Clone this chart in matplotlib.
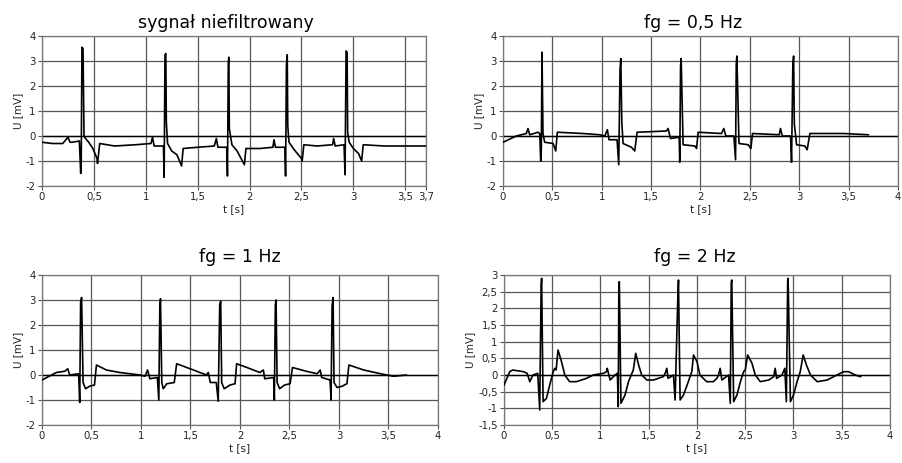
import matplotlib
matplotlib.use("Agg")
import matplotlib.pyplot as plt

# ---- data (t in s, U in mV) ----
t_raw = [0.0, 0.10, 0.20, 0.25, 0.27, 0.29, 0.36, 0.373, 0.378, 0.385, 0.395, 0.405, 0.41,
         0.45, 0.49, 0.53, 0.535, 0.556, 0.70, 0.90, 1.05, 1.065, 1.08, 1.17, 1.177, 1.185,
         1.193, 1.198, 1.21, 1.25, 1.30, 1.345, 1.36, 1.50, 1.66, 1.68, 1.695, 1.78, 1.787,
         1.795, 1.80, 1.805, 1.83, 1.88, 1.95, 1.965, 2.10, 2.225, 2.235, 2.25, 2.34, 2.347,
         2.355, 2.363, 2.368, 2.38, 2.43, 2.50, 2.507, 2.523, 2.65, 2.80, 2.81, 2.825, 2.91,
         2.92, 2.93, 2.94, 2.945, 2.96, 3.00, 3.05, 3.08, 3.095, 3.30, 3.50, 3.70]
u_raw = [-0.25, -0.30, -0.30, -0.05, -0.25, -0.25, -0.20, -1.50, -1.05, 3.55, 3.50, 0.0, -0.05,
         -0.25, -0.50, -0.90, -1.10, -0.30, -0.40, -0.35, -0.30, -0.05, -0.40, -0.40, -1.65, 3.25,
         3.30, 0.55, -0.30, -0.60, -0.75, -1.20, -0.50, -0.45, -0.40, -0.10, -0.45, -0.45, -1.60,
         2.90, 3.15, 0.30, -0.35, -0.60, -1.15, -0.50, -0.50, -0.45, -0.15, -0.45, -0.45, -1.60,
         2.80, 3.25, 0.40, -0.25, -0.55, -0.90, -1.00, -0.35, -0.40, -0.35, -0.10, -0.40, -0.35,
         -1.55, 3.40, 3.35, 0.15, -0.25, -0.50, -0.70, -1.00, -0.35, -0.40, -0.40, -0.40]

t_05 = [0.0, 0.135, 0.236, 0.253, 0.27, 0.355, 0.372, 0.382, 0.388, 0.395, 0.405, 0.422,
        0.507, 0.534, 0.55, 0.81, 0.98, 1.03, 1.057, 1.074, 1.155, 1.172, 1.185, 1.193, 1.203,
        1.216, 1.30, 1.334, 1.358, 1.655, 1.672, 1.696, 1.784, 1.79, 1.798, 1.804, 1.824,
        1.943, 1.96, 1.976, 2.213, 2.236, 2.257, 2.338, 2.355, 2.362, 2.368, 2.39, 2.483,
        2.51, 2.527, 2.797, 2.81, 2.828, 2.912, 2.922, 2.935, 2.943, 2.95, 2.973, 3.057, 3.08,
        3.108, 3.446, 3.70]
u_05 = [-0.25, 0.0, 0.10, 0.30, 0.05, 0.15, 0.10, -1.00, -0.50, 3.35, 0.10, -0.25,
        -0.30, -0.60, 0.15, 0.10, 0.05, 0.0, 0.25, -0.15, -0.15, -1.15, 2.65, 3.10, 0.55,
        -0.30, -0.45, -0.60, 0.15, 0.20, 0.30, -0.10, -0.05, -1.05, 2.80, 3.10, -0.35,
        -0.40, -0.50, 0.15, 0.10, 0.30, 0.0, 0.0, -0.95, 2.85, 3.20, -0.30, -0.35,
        -0.50, 0.10, 0.05, 0.30, 0.0, 0.0, -1.05, 2.85, 3.20, 0.50, -0.35, -0.40, -0.55,
        0.10, 0.10, 0.05]

t_1 = [0.0, 0.145, 0.23, 0.26, 0.28, 0.37, 0.381, 0.39, 0.40, 0.415, 0.44, 0.48, 0.53, 0.55,
       0.65, 0.786, 0.99, 1.04, 1.066, 1.09, 1.165, 1.18, 1.19, 1.197, 1.21, 1.225, 1.26,
       1.336, 1.36, 1.53, 1.66, 1.68, 1.70, 1.76, 1.78, 1.795, 1.805, 1.815, 1.84, 1.90, 1.95,
       1.966, 2.07, 2.20, 2.236, 2.25, 2.34, 2.347, 2.357, 2.364, 2.375, 2.40, 2.45, 2.506,
       2.53, 2.67, 2.78, 2.81, 2.825, 2.91, 2.92, 2.93, 2.94, 2.95, 2.98, 3.03, 3.08, 3.10,
       3.25, 3.42, 3.55, 3.68]
u_1 = [-0.20, 0.10, 0.15, 0.25, 0.0, 0.05, -1.10, 2.90, 3.10, -0.30, -0.55, -0.45, -0.40, 0.40,
       0.20, 0.10, 0.0, -0.05, 0.20, -0.15, -0.10, -1.00, 2.70, 3.05, -0.30, -0.55, -0.35,
       -0.30, 0.45, 0.20, 0.0, 0.10, -0.30, -0.30, -1.05, 2.80, 2.95, -0.30, -0.55, -0.40, -0.35,
       0.45, 0.30, 0.10, 0.20, -0.15, -0.10, -1.00, 2.80, 3.00, -0.30, -0.55, -0.40, -0.35,
       0.30, 0.15, 0.05, 0.20, -0.10, -0.20, -1.00, 2.75, 3.10, -0.30, -0.50, -0.45, -0.35, 0.40,
       0.20, 0.05, -0.05, 0.0]

t_2 = [0.0, 0.06, 0.09, 0.20, 0.24, 0.267, 0.30, 0.35, 0.37, 0.385, 0.39, 0.405, 0.44, 0.474,
       0.51, 0.526, 0.54, 0.56, 0.596, 0.63, 0.68, 0.75, 0.855, 0.925, 1.03, 1.063, 1.07, 1.10,
       1.15, 1.175, 1.184, 1.19, 1.195, 1.212, 1.254, 1.29, 1.34, 1.365, 1.395, 1.427, 1.48,
       1.55, 1.65, 1.67, 1.687, 1.70, 1.756, 1.773, 1.80, 1.808, 1.815, 1.825, 1.86, 1.91,
       1.946, 1.964, 2.0, 2.03, 2.10, 2.17, 2.206, 2.223, 2.24, 2.258, 2.327, 2.345, 2.355,
       2.36, 2.38, 2.414, 2.45, 2.483, 2.50, 2.525, 2.57, 2.604, 2.656, 2.743, 2.795, 2.81,
       2.825, 2.88, 2.91, 2.926, 2.94, 2.944, 2.968, 3.0, 3.037, 3.07, 3.10, 3.134, 3.176,
       3.245, 3.35, 3.45, 3.52, 3.57, 3.64, 3.695]
u_2 = [-0.30, 0.10, 0.15, 0.10, 0.05, -0.20, 0.0, 0.05, -1.05, 2.70, 2.90, -0.80, -0.70, -0.30,
       0.10, 0.20, 0.15, 0.75, 0.40, 0.0, -0.20, -0.20, -0.10, 0.0, 0.05, 0.10, 0.20, -0.15,
       0.0, 0.05, -0.95, 2.60, 2.80, -0.85, -0.60, -0.20, 0.15, 0.65, 0.30, 0.0, -0.15,
       -0.15, -0.05, 0.05, 0.20, -0.10, 0.0, -0.75, 2.20, 2.85, 1.30, -0.75, -0.60, -0.20,
       0.10, 0.60, 0.40, 0.0, -0.20, -0.20, -0.10, 0.0, 0.20, -0.15, 0.0, -0.85, 2.75,
       2.85, -0.80, -0.60, -0.20, 0.10, 0.15, 0.60, 0.35, 0.0, -0.20, -0.15, -0.05, 0.20,
       -0.10, 0.0, 0.20, -0.80, 2.85, 2.90, -0.80, -0.60, -0.20, 0.10, 0.60, 0.30, 0.0,
       -0.20, -0.15, 0.0, 0.10, 0.10, 0.0, -0.05]

titles = ["sygnał niefiltrowany", "fg = 0,5 Hz", "fg = 1 Hz", "fg = 2 Hz"]
series = [(t_raw, u_raw), (t_05, u_05), (t_1, u_1), (t_2, u_2)]
xticks = [[0, 0.5, 1, 1.5, 2, 2.5, 3, 3.5, 3.7],
          [0, 0.5, 1, 1.5, 2, 2.5, 3, 3.5, 4],
          [0, 0.5, 1, 1.5, 2, 2.5, 3, 3.5, 4],
          [0, 0.5, 1, 1.5, 2, 2.5, 3, 3.5, 4]]
yticks = [[-2, -1, 0, 1, 2, 3, 4],
          [-2, -1, 0, 1, 2, 3, 4],
          [-2, -1, 0, 1, 2, 3, 4],
          [-1.5, -1, -0.5, 0, 0.5, 1, 1.5, 2, 2.5, 3]]

# axes boxes in pixels: left, top, right, bottom
W, H = 903, 463
boxes = [(42, 36, 426, 186), (503, 36, 898, 186), (42, 275, 438, 425), (504, 275, 890, 425)]
title_x = [0.48, 0.48, 0.5, 0.495]
title_pad = [6, 6, 9, 9]


def fmt(v):
    return f"{v:g}".replace(".", ",")


fig = plt.figure(figsize=(W / 100, H / 100), dpi=100)
grid_col = "#555555"

for i in range(4):
    l, t, r, b = boxes[i]
    ax = fig.add_axes([l / W, (H - b) / H, (r - l) / W, (b - t) / H])
    xs, ys = series[i]
    ax.plot(xs, ys, color="black", lw=1.2, zorder=3)

    ax.set_xlim(xticks[i][0], xticks[i][-1])
    ax.set_ylim(yticks[i][0], yticks[i][-1])
    ax.set_xticks(xticks[i])
    ax.set_xticklabels([fmt(v) for v in xticks[i]])
    ax.set_yticks(yticks[i])
    ax.set_yticklabels([fmt(v) for v in yticks[i]])
    ax.grid(True, color=grid_col, lw=0.9)
    ax.axhline(0, color="black", lw=1.0, zorder=2)
    ax.tick_params(length=3, width=0.8, color="#555555", labelsize=7.3, pad=1.5,
                   labelcolor="#222222")
    for s in ax.spines.values():
        s.set_color("#777777")
        s.set_linewidth(0.9)

    ax.set_title(titles[i], fontsize=12.5, x=title_x[i], pad=title_pad[i])
    ax.set_xlabel("t [s]", fontsize=7.5, labelpad=1, color="#222222")
    ax.set_ylabel("U [mV]", fontsize=7.5, labelpad=2, color="#222222")

fig.savefig("out.png", dpi=100)
